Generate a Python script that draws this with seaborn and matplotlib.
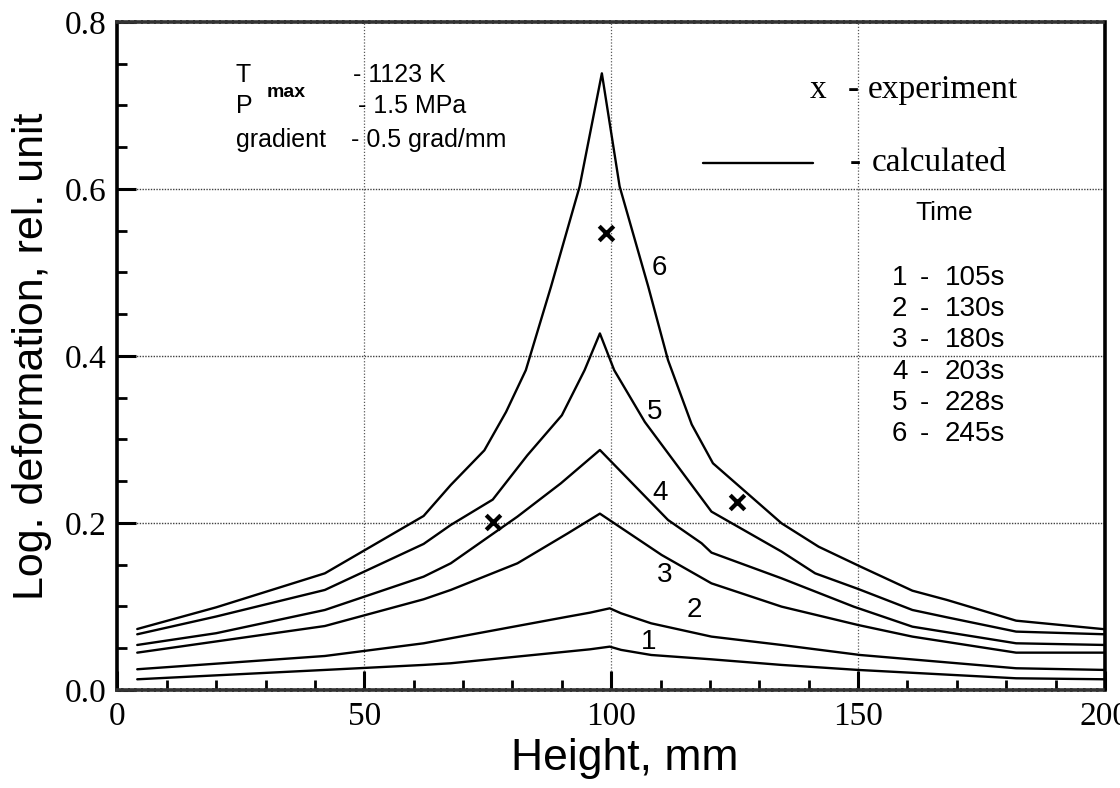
import numpy as np
import pandas as pd
import matplotlib
matplotlib.use("Agg")
import matplotlib.pyplot as plt
import seaborn as sns

# Calculated log. deformation profiles along the specimen height
h1 = [4, 42, 62, 67.5, 95.7, 99.7, 102, 108.1, 120.3, 134.5, 150, 182, 200]
e1 = [0.0128, 0.024, 0.030, 0.032, 0.0487, 0.0519, 0.048, 0.0419, 0.0367, 0.030, 0.024, 0.014, 0.0128]

h2 = [4, 42, 62, 67.5, 91.2, 95.7, 99.7, 102, 108.1, 120.3, 134.5, 150.4, 182, 200]
e2 = [0.0248, 0.0407, 0.0559, 0.0619, 0.0878, 0.0926, 0.0978, 0.0918, 0.0798, 0.0639, 0.0539, 0.0419, 0.026, 0.024]

h3 = [4, 42, 62, 67.5, 81, 91.2, 97.7, 110.2, 120.3, 134.5, 150, 161, 182, 200]
e3 = [0.0447, 0.0766, 0.1086, 0.1198, 0.1517, 0.1876, 0.2112, 0.1617, 0.1277, 0.0998, 0.0778, 0.0639, 0.0447, 0.0447]

h4 = [4, 20, 42, 62, 67.5, 81, 89.8, 97.7, 111.5, 118.3, 120.3, 134.5, 149.1, 161, 182, 200]
e4 = [0.0539, 0.068, 0.0958, 0.1357, 0.1517, 0.2076, 0.2475, 0.2874, 0.2036, 0.1757, 0.1645, 0.1337, 0.0998, 0.0758, 0.0559, 0.0539]

h5 = [4, 20, 42, 62, 67.5, 76, 83, 90, 94.6, 97.7, 100.6, 106.8, 120.3, 134.5, 141.3, 150, 161, 168, 182, 200]
e5 = [0.0667, 0.088, 0.1198, 0.1749, 0.1976, 0.228, 0.281, 0.329, 0.383, 0.427, 0.383, 0.321, 0.2136, 0.1657, 0.1397, 0.121, 0.0958, 0.087, 0.0699, 0.0667]

h6 = [4, 20, 42, 62, 67.5, 74.3, 78.7, 82.7, 87.8, 93.6, 98.1, 101.7, 107.5, 111.5, 116.3, 120.6, 134.5, 142, 150.5, 161, 168, 182, 200]
e6 = [0.073, 0.099, 0.1397, 0.2084, 0.2455, 0.287, 0.333, 0.383, 0.483, 0.603, 0.7385, 0.603, 0.483, 0.395, 0.318, 0.2715, 0.1996, 0.1716, 0.1477, 0.1189, 0.1078, 0.083, 0.0727]

# Experimental points
exp_h = [76, 99, 125.4]
exp_e = [0.2016, 0.547, 0.2255]

# Curve numbers and their label anchors
curve_ids = ["1", "2", "3", "4", "5", "6"]
label_h = [107.5, 116.9, 110.8, 109.8, 108.8, 109.8]
label_e = [0.058, 0.0958, 0.138, 0.2356, 0.333, 0.505]

# Time legend
times = ["105s", "130s", "180s", "203s", "228s", "245s"]

x_ticks = [0, 50, 100, 150, 200]
y_ticks = [0.0, 0.2, 0.4, 0.6, 0.8]

heights = [h1, h2, h3, h4, h5, h6]
strains = [e1, e2, e3, e4, e5, e6]
df = pd.concat(
    [pd.DataFrame({"height": h, "deformation": e, "curve": cid})
     for h, e, cid in zip(heights, strains, curve_ids)],
    ignore_index=True,
)

sns.set_style("ticks")
plt.rcParams["font.family"] = ["Liberation Sans", "DejaVu Sans"]
plt.rcParams["text.color"] = "black"
plt.rcParams["axes.labelcolor"] = "black"
plt.rcParams["xtick.color"] = "black"
plt.rcParams["ytick.color"] = "black"
SERIF = ["Liberation Serif", "DejaVu Serif"]

fig = plt.figure(figsize=(11.2, 7.88), dpi=100)
ax = fig.add_axes([0.1049, 0.1244, 0.8817, 0.8477])

sns.lineplot(data=df, x="height", y="deformation", units="curve",
             estimator=None, sort=False, color="black", linewidth=1.7, ax=ax)
sns.scatterplot(x=exp_h, y=exp_e, marker="x", color="black", s=110,
                linewidth=3.0, ax=ax, zorder=5)

ax.set_xlim(0, 200)
ax.set_ylim(0, 0.8)
ax.set_xticks(x_ticks)
ax.set_xticklabels([str(t) for t in x_ticks], family=SERIF, fontsize=24)
ax.set_yticks(y_ticks)
ax.set_yticklabels([f"{t:.1f}" for t in y_ticks], family=SERIF, fontsize=24)
ax.set_xticks(np.arange(10, 200, 10), minor=True)
ax.set_yticks(np.arange(0.05, 0.8, 0.05), minor=True)
ax.tick_params(which="major", direction="in", length=14, width=2.2, pad=8,
               top=False, right=False, colors="black")
ax.tick_params(which="minor", direction="in", length=7, width=2.0,
               top=False, right=False, colors="black")

# Dotted reference grid
for gx in [50, 100, 150]:
    ax.axvline(gx, color="0.35", linestyle=(0, (1, 1.5)), linewidth=0.9, zorder=0)
for gy in [0.2, 0.4, 0.6]:
    ax.axhline(gy, color="0.25", linestyle=(0, (1, 1)), linewidth=1.0, zorder=0)

for side in ["left", "right"]:
    ax.spines[side].set_linewidth(2.6)
    ax.spines[side].set_color("black")
for side in ["top", "bottom"]:
    ax.spines[side].set_linewidth(2.6)
    ax.spines[side].set_color("0.2")
    ax.spines[side].set_linestyle((0, (1.2, 0.6)))

ax.set_xlabel("Height, mm", fontsize=32)
ax.set_ylabel("Log. deformation, rel. unit", fontsize=31)
ax.xaxis.set_label_coords(0.514, -0.072)
ax.yaxis.set_label_coords(-0.066, 0.5)

# Curve numbers
for cid, lh, le in zip(curve_ids, label_h, label_e):
    ax.text(lh, le, cid, fontsize=20, ha="center", va="center")

T = ax.transAxes
# Process parameters
ax.text(0.120, 0.9106, "T", fontsize=18, transform=T, va="baseline")
ax.text(0.1514, 0.8877, "max", fontsize=14, fontweight="bold", transform=T, va="baseline")
ax.text(0.120, 0.8638, "P", fontsize=18, transform=T, va="baseline")
ax.text(0.120, 0.8133, "gradient", fontsize=18, transform=T, va="baseline")
ax.text(0.2385, 0.9106, "- 1123 K", fontsize=18, transform=T, va="baseline")
ax.text(0.2435, 0.8638, "- 1.5 MPa", fontsize=18, transform=T, va="baseline")
ax.text(0.2365, 0.8133, "- 0.5 grad/mm", fontsize=18, transform=T, va="baseline")

# Legend for symbols
ax.text(0.701, 0.886, "x", family=SERIF, fontsize=24, transform=T, va="baseline")
ax.text(0.739, 0.886, "-", family=SERIF, fontsize=24, transform=T, va="baseline")
ax.text(0.760, 0.886, "experiment", family=SERIF, fontsize=24, transform=T, va="baseline")
ax.plot([0.593, 0.704], [0.789, 0.789], color="black", linewidth=1.7, transform=T)
ax.text(0.742, 0.777, "-", family=SERIF, fontsize=24, transform=T, va="baseline")
ax.text(0.764, 0.777, "calculated", family=SERIF, fontsize=24, transform=T, va="baseline")

# Time legend
ax.text(0.8076, 0.7036, "Time", fontsize=19, transform=T, va="baseline")
for i, (cid, tm) in enumerate(zip(curve_ids, times)):
    yb = 0.6063 - i * 0.0467
    ax.text(0.7843, yb, cid, fontsize=20, transform=T, va="baseline")
    ax.text(0.8127, yb, "-", fontsize=20, transform=T, va="baseline")
    ax.text(0.838, yb, tm, fontsize=20, transform=T, va="baseline")

fig.savefig("out.png", dpi=100)
